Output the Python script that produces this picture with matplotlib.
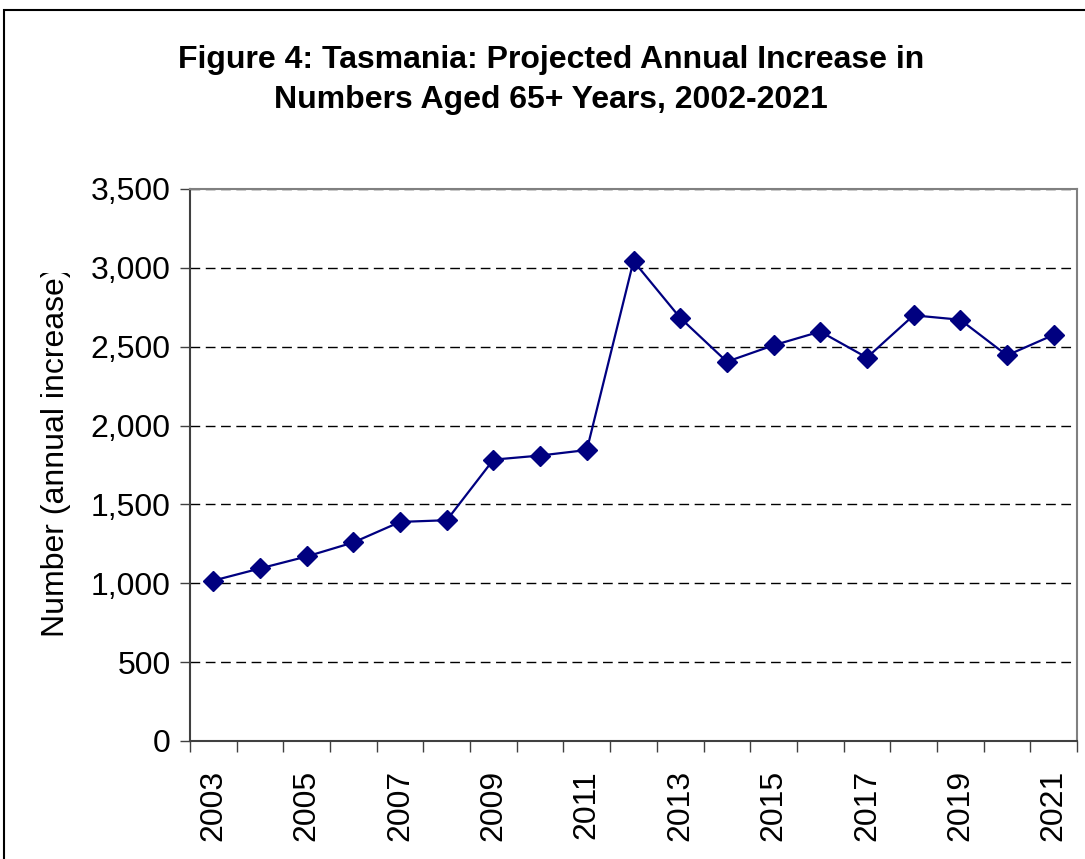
import matplotlib
matplotlib.use("Agg")
import matplotlib.pyplot as plt
from matplotlib.patches import Rectangle
from matplotlib.ticker import FuncFormatter, FixedLocator, MultipleLocator

plt.rcParams['font.family'] = ['Liberation Sans', 'DejaVu Sans']

years = [2003, 2004, 2005, 2006, 2007, 2008, 2009, 2010, 2011, 2012,
         2013, 2014, 2015, 2016, 2017, 2018, 2019, 2020, 2021]
increase = [1017, 1094, 1170, 1259, 1389, 1400, 1784, 1810, 1845, 3043,
            2683, 2405, 2509, 2596, 2431, 2699, 2671, 2445, 2575]
title = "Figure 4: Tasmania: Projected Annual Increase in\nNumbers Aged 65+ Years, 2002-2021"
ylabel = "Number (annual increase)"

W, H = 1085, 859
fig = plt.figure(figsize=(W / 100, H / 100), dpi=100)
fig.patch.set_facecolor('white')

# outer chart border
fig.patches.append(Rectangle((4 / W, -0.01), 1.02, (H - 10) / H + 0.01, transform=fig.transFigure,
                             fill=False, edgecolor='black', linewidth=1.5))

ax = fig.add_axes([190 / W, (H - 741) / H, (1077 - 190) / W, (741 - 189) / H])
x = list(range(len(years)))
ax.plot(x, increase, color='#000080', linewidth=1.6, marker='D', markersize=10.5,
        markerfacecolor='#000080', markeredgecolor='#000080', zorder=3)

ax.set_xlim(-0.5, len(years) - 0.5)
ax.set_ylim(0, 3500)
ax.yaxis.set_major_locator(MultipleLocator(500))
ax.yaxis.set_major_formatter(FuncFormatter(lambda v, p: f"{int(v):,}"))
ax.grid(axis='y', color='black', linestyle=(0, (7, 4)), linewidth=1)
ax.set_axisbelow(True)

# category ticks between categories, labels every other year
ax.xaxis.set_major_locator(FixedLocator([i - 0.5 for i in range(len(years) + 1)]))
ax.xaxis.set_major_formatter(FuncFormatter(lambda v, p: ""))
ax.xaxis.set_minor_locator(FixedLocator(x[::2]))
ax.set_xticklabels([str(y) for y in years[::2]], minor=True, rotation=90, fontsize=23)
ax.tick_params(axis='x', which='major', length=8, width=1, color='#404040', direction='out')
ax.tick_params(axis='x', which='minor', length=0, pad=21)
ax.tick_params(axis='y', length=7, width=1, color='#404040', labelsize=23, pad=7)

for s in ['top', 'right']:
    ax.spines[s].set_color('#808080')
    ax.spines[s].set_linewidth(1.5)
for s in ['left', 'bottom']:
    ax.spines[s].set_color('#404040')
    ax.spines[s].set_linewidth(1.5)

fig.text(551 / W, 1 - 80 / H, title, ha='center', va='center', fontsize=23,
         fontweight='bold', linespacing=1.45)

yl = fig.text(56 / W, 1 - 452 / H, ylabel, rotation=90, ha='center', va='center', fontsize=23)
clip = Rectangle((0, 0), 1, (H - 273) / H, transform=fig.transFigure, visible=False)
fig.patches.append(clip)
yl.set_clip_path(clip)

fig.savefig("out.png", dpi=100, facecolor='white')
